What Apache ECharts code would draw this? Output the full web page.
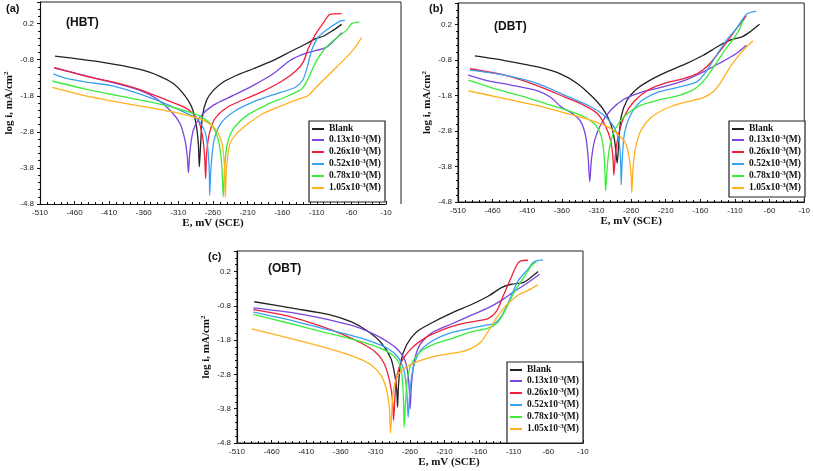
<!DOCTYPE html>
<html>
<head>
<meta charset="utf-8">
<script src="https://cdn.jsdelivr.net/npm/echarts@6/dist/echarts.min.js"></script>
<style>html,body{margin:0;padding:0;background:#fff}#c{width:813px;height:471px}</style>
</head>
<body>
<div id="c"></div>
<script>
// ---------- DATA ----------
const seriesNames = ['Blank', '0.13', '0.26', '0.52', '0.78', '1.05'];
const seriesColors = ['#222222', '#7a45e0', '#f0203c', '#3aa0f0', '#3cec3c', '#ffb21e'];
const xTicks = [-510, -460, -410, -360, -310, -260, -210, -160, -110, -60, -10];
const yTicks = [-4.8, -3.8, -2.8, -1.8, -0.8, 0.2];
const panelTags = ['(a)', '(b)', '(c)'];
const panelInhibitors = ['(HBT)', '(DBT)', '(OBT)'];

// (a) HBT  [E mV, log i]
const HBT_BLANK = [[-488.3,-0.70],[-423.3,-0.86],[-365.5,-1.07],[-336.6,-1.26],[-317.3,-1.46],[-302.9,-1.74],[-290.8,-2.11],[-284.6,-2.57],[-281.2,-3.12],[-279.8,-3.77],[-277.8,-3.12],[-275.4,-2.39],[-269.2,-1.92],[-259.5,-1.65],[-245.1,-1.42],[-225.8,-1.23],[-201.7,-1.05],[-172.8,-0.82],[-148.7,-0.58],[-124.6,-0.35],[-112.6,-0.22],[-100.6,-0.15],[-86.1,0.02],[-74.1,0.18]];
const HBT_013 = [[-489.3,-1.03],[-447.4,-1.23],[-399.2,-1.46],[-365.5,-1.65],[-341.4,-1.88],[-322.1,-2.20],[-307.7,-2.57],[-300.5,-3.03],[-297.1,-3.49],[-295.6,-3.93],[-293.2,-3.31],[-288.4,-2.75],[-278.8,-2.39],[-259.5,-2.06],[-230.6,-1.79],[-201.7,-1.51],[-172.8,-1.19],[-148.7,-0.82],[-124.6,-0.61],[-95.7,-0.45],[-74.1,-0.05]];
const HBT_026 = [[-489.3,-1.01],[-442.6,-1.26],[-399.2,-1.44],[-365.5,-1.63],[-327.0,-1.92],[-298.1,-2.15],[-281.2,-2.48],[-275.0,-2.94],[-272.1,-3.49],[-270.6,-4.09],[-269.2,-3.40],[-265.3,-2.85],[-257.1,-2.43],[-240.3,-2.13],[-216.2,-1.91],[-187.3,-1.67],[-158.4,-1.37],[-139.1,-1.09],[-129.5,-0.86],[-122.3,-0.49],[-112.6,-0.12],[-100.6,0.22],[-91.0,0.46],[-74.1,0.48]];
const HBT_052 = [[-490.7,-1.19],[-471.5,-1.32],[-442.6,-1.42],[-408.8,-1.51],[-375.1,-1.69],[-341.4,-1.92],[-307.7,-2.20],[-283.6,-2.43],[-271.6,-2.80],[-267.2,-3.31],[-265.3,-3.96],[-264.8,-4.56],[-262.9,-3.78],[-258.5,-3.04],[-248.9,-2.57],[-230.6,-2.25],[-201.7,-1.97],[-168.0,-1.74],[-141.5,-1.57],[-130.4,-1.37],[-123.7,-1.00],[-117.4,-0.54],[-107.8,-0.17],[-93.3,0.06],[-76.5,0.27],[-69.3,0.29]];
const HBT_078 = [[-492.2,-1.39],[-447.4,-1.60],[-399.2,-1.79],[-351.0,-1.97],[-312.5,-2.15],[-281.2,-2.34],[-261.9,-2.61],[-252.3,-3.03],[-247.5,-3.68],[-245.1,-4.60],[-243.1,-3.77],[-239.3,-3.13],[-230.6,-2.72],[-211.4,-2.35],[-182.5,-2.05],[-153.6,-1.82],[-131.9,-1.61],[-122.3,-1.32],[-112.6,-0.91],[-98.2,-0.49],[-81.3,-0.19],[-66.8,0.02],[-59.6,0.20],[-48.5,0.24]];
const HBT_105 = [[-492.2,-1.57],[-447.4,-1.79],[-399.2,-1.97],[-351.0,-2.13],[-307.7,-2.29],[-274.0,-2.48],[-257.1,-2.71],[-247.5,-3.08],[-243.6,-3.68],[-242.2,-4.62],[-240.3,-3.78],[-235.4,-3.12],[-225.8,-2.85],[-209.0,-2.57],[-187.3,-2.29],[-163.2,-2.09],[-139.1,-1.91],[-122.3,-1.79],[-110.3,-1.55],[-98.2,-1.32],[-81.3,-1.00],[-64.5,-0.68],[-52.5,-0.40],[-45.3,-0.19]];

// (b) DBT
const DBT_BLANK = [[-485.6,-0.69],[-442.6,-0.82],[-394.8,-1.00],[-361.3,-1.20],[-337.4,-1.47],[-315.9,-1.84],[-299.2,-2.22],[-289.6,-2.59],[-283.9,-3.06],[-280.1,-3.71],[-277.7,-3.06],[-274.3,-2.40],[-265.7,-1.93],[-251.4,-1.61],[-232.3,-1.37],[-208.4,-1.14],[-179.7,-0.90],[-155.8,-0.67],[-131.9,-0.39],[-115.2,-0.23],[-100.8,-0.16],[-88.9,-0.02],[-74.5,0.20]];
const DBT_013 = [[-495.2,-1.23],[-466.5,-1.39],[-433.0,-1.51],[-394.8,-1.67],[-375.7,-1.86],[-361.3,-2.12],[-344.6,-2.31],[-332.7,-2.54],[-325.5,-2.96],[-322.1,-3.53],[-319.7,-4.23],[-317.4,-3.62],[-312.6,-3.06],[-303.0,-2.59],[-289.6,-2.22],[-270.5,-1.91],[-246.6,-1.72],[-217.9,-1.58],[-184.5,-1.39],[-155.8,-1.14],[-131.9,-0.89],[-107.9,-0.62],[-93.6,-0.39]];
const DBT_026 = [[-492.8,-1.05],[-442.6,-1.23],[-394.8,-1.53],[-356.6,-1.84],[-327.9,-2.08],[-308.8,-2.31],[-296.9,-2.67],[-289.7,-3.06],[-286.3,-3.53],[-284.9,-4.04],[-282.5,-3.43],[-277.7,-2.87],[-269.6,-2.38],[-256.2,-1.98],[-237.1,-1.67],[-213.2,-1.47],[-184.5,-1.33],[-163.0,-1.17],[-148.6,-0.95],[-134.3,-0.62],[-119.9,-0.25],[-108.0,0.08],[-98.4,0.31],[-93.6,0.45]];
const DBT_052 = [[-492.8,-1.09],[-442.6,-1.23],[-394.8,-1.47],[-356.6,-1.79],[-318.3,-2.12],[-299.2,-2.36],[-284.9,-2.68],[-277.7,-3.06],[-275.3,-3.62],[-274.3,-4.32],[-272.9,-3.62],[-269.6,-2.87],[-261.0,-2.36],[-246.6,-1.98],[-222.7,-1.72],[-194.0,-1.58],[-165.3,-1.42],[-151.0,-1.11],[-136.7,-0.67],[-122.3,-0.25],[-108.0,0.08],[-93.6,0.48],[-79.3,0.57]];
const DBT_078 = [[-495.2,-1.37],[-452.2,-1.64],[-413.9,-1.84],[-380.5,-2.05],[-351.8,-2.22],[-327.9,-2.40],[-311.2,-2.64],[-303.0,-2.96],[-299.2,-3.43],[-297.8,-3.99],[-296.8,-4.48],[-294.4,-3.81],[-290.6,-3.20],[-282.5,-2.73],[-268.1,-2.36],[-246.6,-2.08],[-217.9,-1.92],[-189.2,-1.79],[-167.7,-1.61],[-153.4,-1.35],[-139.0,-0.95],[-124.7,-0.53],[-110.4,-0.16],[-103.2,0.08],[-98.4,0.31]];
const DBT_105 = [[-495.2,-1.67],[-442.6,-1.89],[-394.8,-2.09],[-356.6,-2.29],[-318.3,-2.50],[-292.0,-2.70],[-277.7,-2.92],[-268.1,-3.15],[-262.9,-3.53],[-260.0,-4.04],[-259.0,-4.54],[-257.1,-3.81],[-253.3,-3.25],[-245.6,-2.78],[-229.9,-2.40],[-206.0,-2.14],[-179.7,-1.98],[-155.8,-1.86],[-141.5,-1.70],[-131.9,-1.47],[-119.9,-1.09],[-108.0,-0.76],[-93.6,-0.44],[-84.1,-0.27]];

// (c) OBT
const OBT_BLANK = [[-485.0,-0.68],[-426.3,-0.88],[-378.1,-1.05],[-344.5,-1.27],[-320.4,-1.55],[-301.2,-1.89],[-287.7,-2.33],[-281.9,-2.82],[-279.0,-3.31],[-278.0,-3.75],[-276.6,-3.11],[-273.2,-2.43],[-265.1,-1.94],[-250.6,-1.56],[-229.0,-1.30],[-200.1,-1.01],[-171.2,-0.76],[-147.2,-0.52],[-127.9,-0.27],[-113.5,-0.17],[-96.6,-0.12],[-87.0,0.00],[-75.0,0.20]];
const OBT_013 = [[-486.4,-0.86],[-426.3,-1.01],[-378.1,-1.20],[-339.6,-1.40],[-310.8,-1.64],[-289.1,-1.89],[-276.1,-2.11],[-267.5,-2.38],[-262.7,-2.82],[-260.8,-3.31],[-259.8,-3.80],[-257.9,-3.11],[-254.0,-2.43],[-245.8,-1.94],[-229.0,-1.59],[-200.1,-1.33],[-171.2,-1.07],[-147.2,-0.86],[-127.9,-0.64],[-108.7,-0.37],[-89.4,-0.12],[-72.6,0.12]];
const OBT_026 = [[-486.4,-0.91],[-435.9,-1.10],[-387.8,-1.40],[-354.1,-1.66],[-330.0,-1.89],[-310.8,-2.13],[-298.7,-2.43],[-291.5,-2.82],[-286.7,-3.31],[-284.8,-3.70],[-283.8,-4.14],[-281.9,-3.51],[-279.5,-2.92],[-272.3,-2.43],[-257.8,-2.04],[-238.6,-1.74],[-216.9,-1.53],[-190.5,-1.35],[-166.4,-1.25],[-147.2,-1.17],[-135.1,-0.96],[-125.5,-0.52],[-115.9,-0.07],[-106.3,0.37],[-100.0,0.51],[-89.4,0.53]];
const OBT_052 = [[-486.4,-0.98],[-435.9,-1.20],[-387.8,-1.45],[-349.3,-1.64],[-315.6,-1.84],[-291.5,-2.05],[-276.9,-2.31],[-268.4,-2.72],[-264.6,-3.31],[-262.6,-4.05],[-260.2,-3.31],[-255.4,-2.62],[-245.8,-2.13],[-229.0,-1.84],[-204.9,-1.61],[-176.0,-1.47],[-151.9,-1.37],[-137.5,-1.31],[-127.9,-1.10],[-115.9,-0.61],[-103.8,-0.07],[-89.4,0.27],[-83.6,0.44],[-77.4,0.51],[-67.8,0.54]];
const OBT_078 = [[-486.4,-1.05],[-435.9,-1.30],[-387.8,-1.55],[-349.3,-1.74],[-315.6,-1.94],[-291.5,-2.15],[-278.1,-2.38],[-272.3,-2.72],[-269.9,-3.31],[-268.9,-3.90],[-268.4,-4.34],[-266.5,-3.60],[-263.6,-2.92],[-257.8,-2.48],[-243.4,-2.11],[-224.2,-1.91],[-197.7,-1.74],[-171.2,-1.56],[-147.2,-1.45],[-132.7,-1.27],[-120.7,-0.86],[-108.7,-0.37],[-94.2,0.07],[-84.6,0.37],[-77.4,0.49]];
const OBT_105 = [[-488.8,-1.47],[-450.3,-1.66],[-402.2,-1.91],[-363.7,-2.13],[-334.8,-2.33],[-315.6,-2.53],[-302.1,-2.82],[-294.4,-3.21],[-290.1,-3.70],[-288.2,-4.51],[-286.7,-4.00],[-284.3,-3.31],[-278.1,-2.84],[-265.1,-2.58],[-243.4,-2.38],[-219.4,-2.25],[-190.5,-2.16],[-171.2,-2.04],[-156.8,-1.84],[-147.2,-1.55],[-135.1,-1.16],[-120.7,-0.78],[-103.8,-0.49],[-89.4,-0.35],[-75.0,-0.18]];

const panelData = [
  [HBT_BLANK, HBT_013, HBT_026, HBT_052, HBT_078, HBT_105],
  [DBT_BLANK, DBT_013, DBT_026, DBT_052, DBT_078, DBT_105],
  [OBT_BLANK, OBT_013, OBT_026, OBT_052, OBT_078, OBT_105]
];

// ---------- LAYOUT ----------
const grids = [
  {left: 40, top: 2, width: 346, height: 202},
  {left: 458, top: 3, width: 348, height: 199},
  {left: 237, top: 251, width: 346, height: 192}
];
const legendPos = [{left: 309, top: 121}, {left: 729, top: 121}, {left: 507, top: 362}];
const legendPad = [[3, 4, 8, 3], [3, 4, 3, 3], [3, 4, 8, 3]];
const tagPos = [{left: 6, top: 3}, {left: 429, top: 3}, {left: 208, top: 251}];
const inhPos = [{left: 66, top: 17}, {left: 494, top: 21}, {left: 268, top: 263}];
const xNamePad = [[0,0,0,0],[0,0,0,0],[0,0,0,78]];

const serif = '"Liberation Serif", "DejaVu Serif", serif';
const sans = '"Liberation Sans", Arial, sans-serif';

const option = {
  animation: false,
  backgroundColor: '#ffffff',
  title: [],
  grid: grids.map((g, i) => Object.assign({
    show: i !== 0, borderColor: '#222', borderWidth: 1, backgroundColor: 'transparent', containLabel: false
  }, g)),
  xAxis: grids.map((g, i) => ({
    gridIndex: i, type: 'value', min: -510, max: -10, interval: 50,
    name: 'E, mV (SCE)', nameLocation: 'middle', nameGap: 11,
    nameTextStyle: {fontFamily: serif, fontWeight: 'bold', fontSize: 11, color: '#111', padding: xNamePad[i]},
    axisLine: {show: true, onZero: false, lineStyle: {color: '#111', width: 1.2}},
    axisTick: {show: true, inside: true, length: 3, lineStyle: {color: '#111'}},
    minorTick: {show: true, splitNumber: 5, length: 2, lineStyle: {color: '#111'}},
    axisLabel: {fontSize: 8, color: '#222', fontFamily: sans, margin: 5,
      formatter: v => xTicks.includes(Math.round(v)) ? String(Math.round(v)) : ''},
    splitLine: {show: false}
  })),
  yAxis: grids.map((g, i) => ({
    gridIndex: i, type: 'value', min: -4.8, max: 0.8, interval: 1,
    name: '{a|log i, mA/cm}{s|2}', nameLocation: 'middle', nameGap: 24, nameRotate: 90,
    nameTextStyle: {rich: {
      a: {fontFamily: serif, fontWeight: 'bold', fontSize: 11, color: '#111'},
      s: {fontFamily: serif, fontWeight: 'bold', fontSize: 7, color: '#111', padding: [0,0,6,0]}
    }},
    axisLine: {show: true, onZero: false, lineStyle: {color: '#111', width: 1.2}},
    axisTick: {show: true, inside: false, length: 3, lineStyle: {color: '#111'}},
    minorTick: {show: true, splitNumber: 5, length: 2, lineStyle: {color: '#111'}},
    axisLabel: {fontSize: 8, color: '#222', fontFamily: sans, margin: 6, showMaxLabel: false,
      formatter: v => {
        const m = yTicks.find(t => Math.abs(t - v) < 1e-6);
        return m === undefined ? '' : m.toFixed(1);
      }},
    splitLine: {show: false}
  })),
  legend: legendPos.map((p, i) => ({
    left: p.left, top: p.top, orient: 'vertical', itemGap: 0,
    icon: 'rect', itemWidth: 12, itemHeight: 2,
    backgroundColor: '#fff', borderColor: '#222', borderWidth: 1.2, padding: legendPad[i],
    data: seriesNames.slice(),
    formatter: n => n === 'Blank' ? '{t|Blank}' : '{t|' + n + 'x10}{s|-3}{t|(M)}',
    textStyle: {rich: {
      t: {fontFamily: serif, fontWeight: 'bold', fontSize: 9.5, color: '#111', lineHeight: 11.6},
      s: {fontFamily: serif, fontWeight: 'bold', fontSize: 7, color: '#111', padding: [0,0,5,0], lineHeight: 11.6}
    }}
  })),
  graphic: [{
    type: 'polyline', silent: true,
    shape: {points: [[40, 2], [401, 2], [401, 204]]},
    style: {stroke: '#222', lineWidth: 1, fill: null}
  }],
  series: []
};

panelTags.forEach((t, i) => {
  option.title.push({text: t, left: tagPos[i].left, top: tagPos[i].top, padding: 0,
    textStyle: {fontFamily: sans, fontWeight: 'bold', fontSize: 11, color: '#111'}});
  option.title.push({text: panelInhibitors[i], left: inhPos[i].left, top: inhPos[i].top, padding: 0,
    textStyle: {fontFamily: sans, fontWeight: 'bold', fontSize: 12, color: '#111'}});
});

panelData.forEach((list, p) => {
  list.forEach((d, k) => {
    option.series.push({
      type: 'line', name: seriesNames[k], xAxisIndex: p, yAxisIndex: p,
      data: d, showSymbol: false, symbol: 'none', smooth: 0.25,
      lineStyle: {color: seriesColors[k], width: 1.3},
      itemStyle: {color: seriesColors[k]},
      z: 2 + k
    });
  });
});

const chart = echarts.init(document.getElementById('c'), null, {renderer: 'canvas'});
chart.setOption(option);
</script>
</body>
</html>
